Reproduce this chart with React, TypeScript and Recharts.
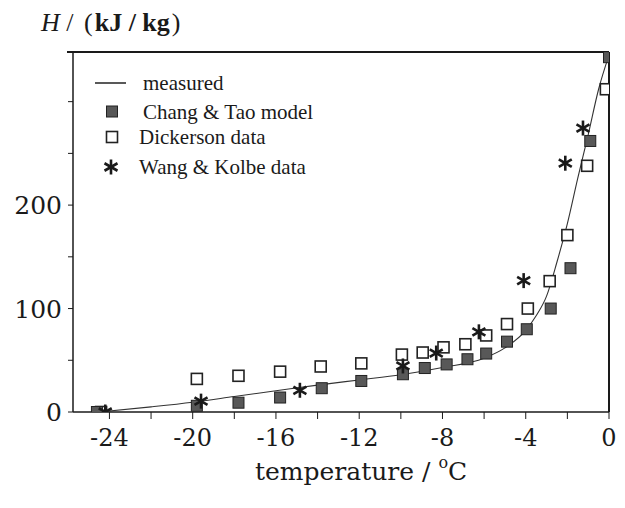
import { ComposedChart, Line, Scatter, XAxis, YAxis, ReferenceLine } from 'recharts'

// enthalpy H (kJ/kg) vs temperature (°C)
const measuredT = [-24.5, -22, -20, -18, -16, -14, -12, -10, -8, -6, -5, -4, -3.5, -3, -2.5, -2, -1.5, -1, -0.5, 0]
const measuredH = [0, 5, 9.5, 15, 20.5, 26, 31, 36, 43, 52, 62, 79, 93, 112, 145, 182, 226, 268, 312, 345]

const changT = [-24.6, -19.8, -17.8, -15.8, -13.8, -11.9, -9.9, -8.85, -7.8, -6.8, -5.9, -4.9, -3.95, -2.8, -1.85, -0.9, 0]
const changH = [0, 6, 9, 14, 23, 30, 36.5, 42.5, 46, 51, 56.5, 68, 80, 100, 139, 262, 343]

const dickersonT = [-24.4, -19.8, -17.8, -15.8, -13.85, -11.9, -9.95, -8.95, -7.95, -6.9, -5.9, -4.9, -3.9, -2.85, -2.0, -1.05, -0.15]
const dickersonH = [0, 32, 35, 39, 44, 47, 55.5, 57.5, 62.5, 65.5, 74, 85, 100, 126.5, 171, 238, 312]

const wangT = [-24.2, -19.6, -14.85, -9.9, -8.3, -6.25, -4.1, -2.1, -1.25]
const wangH = [0, 10.5, 21, 44.5, 57, 77.5, 127, 240.5, 274.5]

const xTicks = [-24, -22, -20, -18, -16, -14, -12, -10, -8, -6, -4, -2, 0]
const yTicks = [0, 50, 100, 150, 200, 250, 300]
const yLabels = [0, 100, 200]

const toPoints = (ts: number[], hs: number[]) => ts.map((t, i) => ({ t, h: hs[i] }))

const measured = toPoints(measuredT, measuredH)
const chang = toPoints(changT, changH)
const dickerson = toPoints(dickersonT, dickersonH)
const wang = toPoints(wangT, wangH)

const SERIF = '"DejaVu Serif", serif'
const TIMES = '"Liberation Serif", "Times New Roman", serif'
const INK = '#1a1a1a'

function FilledSquare({ cx, cy }: any) {
  if (cx == null || cy == null) return null
  return <rect x={cx - 5.5} y={cy - 5.5} width={11} height={11} fill="#585858" stroke="#222" strokeWidth={1} />
}

function OpenSquare({ cx, cy }: any) {
  if (cx == null || cy == null) return null
  return <rect x={cx - 5.5} y={cy - 5.5} width={11} height={11} fill="#fff" stroke="#222" strokeWidth={1.6} />
}

function Asterisk({ cx, cy }: any) {
  if (cx == null || cy == null) return null
  const r = 7.5
  const arms = [90, 30, 150].map((a) => {
    const rad = (a * Math.PI) / 180
    const dx = r * Math.cos(rad)
    const dy = r * Math.sin(rad)
    return <line key={a} x1={cx - dx} y1={cy - dy} x2={cx + dx} y2={cy + dy} stroke={INK} strokeWidth={2.6} />
  })
  return <g>{arms}</g>
}

function XTick({ x, y, payload }: any) {
  const v = payload.value
  if (Math.abs(v) % 4 !== 0) return null
  return (
    <text x={x} y={y + 25} textAnchor="middle" fontFamily={SERIF} fontSize={24} fill={INK}>
      {v === 0 ? '0' : v}
    </text>
  )
}

function YTick({ x, y, payload }: any) {
  const v = payload.value
  if (!yLabels.includes(v)) return null
  return (
    <text x={x - 4} y={y + 9} textAnchor="end" fontFamily={SERIF} fontSize={25} fill={INK}>
      {v}
    </text>
  )
}

export default function App() {
  return (
    <div style={{ position: 'absolute', left: 0, top: 0, width: 625, height: 508, background: '#fff' }}>
      <ComposedChart width={625} height={508} margin={{ top: 52, right: 16, bottom: 36, left: 0 }}>
        <XAxis
          type="number"
          dataKey="t"
          domain={[-25.75, 0]}
          ticks={xTicks}
          tick={<XTick />}
          tickSize={7}
          height={60}
          axisLine={{ stroke: INK, strokeWidth: 1.5 }}
          tickLine={{ stroke: INK }}
          allowDataOverflow
        />
        <YAxis
          type="number"
          dataKey="h"
          domain={[0, 348]}
          ticks={yTicks}
          tick={<YTick />}
          tickSize={5}
          width={73}
          axisLine={{ stroke: INK, strokeWidth: 1.5 }}
          tickLine={{ stroke: INK }}
          allowDataOverflow
        />
        <ReferenceLine y={348} stroke={INK} strokeWidth={2} />
        <ReferenceLine x={0} stroke={INK} strokeWidth={2} />
        <Line
          data={measured}
          dataKey="h"
          type="monotone"
          stroke="#333"
          strokeWidth={1.1}
          dot={false}
          isAnimationActive={false}
        />
        <Scatter data={dickerson} dataKey="h" shape={<OpenSquare />} isAnimationActive={false} />
        <Scatter data={chang} dataKey="h" shape={<FilledSquare />} isAnimationActive={false} />
        <Scatter data={wang} dataKey="h" shape={<Asterisk />} isAnimationActive={false} />
      </ComposedChart>

      <svg width={625} height={508} style={{ position: 'absolute', left: 0, top: 0, pointerEvents: 'none' }}>
        <line x1={67} y1={52} x2={74} y2={52} stroke={INK} strokeWidth={2} />
        <text x={41} y={31} fontFamily={TIMES} fontSize={26} fill={INK}>
          <tspan fontStyle="italic">H</tspan>
          <tspan> / </tspan>
          <tspan dx={4}>(</tspan>
          <tspan fontWeight="bold" dx={2}>kJ / kg</tspan>
          <tspan dx={2}>)</tspan>
        </text>

        <line x1={95} y1={83} x2={126} y2={83} stroke="#222" strokeWidth={1.5} />
        <text x={143} y={90} fontFamily={TIMES} fontSize={21} fill={INK}>measured</text>
        <FilledSquare cx={112} cy={111.5} />
        <text x={143} y={118.5} fontFamily={TIMES} fontSize={21} fill={INK}>Chang &amp; Tao model</text>
        <OpenSquare cx={112} cy={137} />
        <text x={139} y={144} fontFamily={TIMES} fontSize={21} fill={INK}>Dickerson data</text>
        <Asterisk cx={111} cy={167} />
        <text x={139} y={174} fontFamily={TIMES} fontSize={21} fill={INK}>Wang &amp; Kolbe data</text>

        <text x={255} y={480} fontFamily={SERIF} fontSize={25} fill={INK}>
          temperature / <tspan fontSize={16} dy={-12}>o</tspan>
          <tspan dy={12}>C</tspan>
        </text>
      </svg>
    </div>
  )
}
